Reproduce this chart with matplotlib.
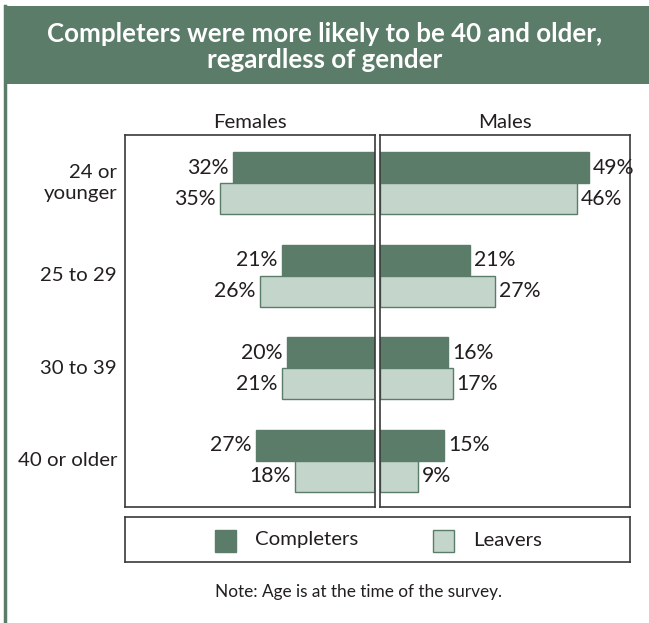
import matplotlib
matplotlib.use("Agg")
import matplotlib.pyplot as plt
from matplotlib.patches import Rectangle
import numpy as np

plt.rcParams['font.family'] = ['Lato', 'DejaVu Sans']

categories = ["24 or\nyounger", "25 to 29", "30 to 39", "40 or older"]
female_completers = [32, 21, 20, 27]
female_leavers = [35, 26, 21, 18]
male_completers = [49, 21, 16, 15]
male_leavers = [46, 27, 17, 9]
series_names = ["Completers", "Leavers"]
title = "Completers were more likely to be 40 and older,\nregardless of gender"
note = "Note: Age is at the time of the survey."

DARK = "#5a7c68"
LIGHT = "#c4d6cb"
TXT = "#231f20"

W, H = 649, 623
fig = plt.figure(figsize=(W / 100, H / 100), dpi=100)

def ax_at(x0, y0, x1, y1):
    return fig.add_axes([x0 / W, 1 - y1 / H, (x1 - x0) / W, (y1 - y0) / H])

# header band and frame
bg = fig.add_axes([0, 0, 1, 1])
bg.set_xlim(0, W); bg.set_ylim(H, 0); bg.axis("off")
bg.add_patch(Rectangle((4, 6), W, 78, facecolor=DARK, edgecolor="none"))
bg.plot([5, 5], [6, H], color=DARK, lw=2.5)
bg.text(325, 47, title, ha="center", va="center", color="white",
        fontsize=18.6, fontweight="bold", linespacing=1.1)

y = np.arange(len(categories))
h = 0.335
xmaxF = 56.5
xmaxM = 58.5
FS = 14.7
FSV = 15.3

axF = ax_at(125, 135, 375, 507)
axM = ax_at(380, 135, 630, 507)
for ax in (axF, axM):
    ax.set_ylim(3.5, -0.52)
    ax.set_xticks([]); ax.set_yticks([])
    for s in ax.spines.values():
        s.set_color("#3a3a3a"); s.set_linewidth(1.2)
axF.set_xlim(xmaxF, 0)
axM.set_xlim(0, xmaxM)

axF.barh(y - h / 2, female_completers, height=h, color=DARK, edgecolor=DARK, lw=1)
axF.barh(y + h / 2, female_leavers, height=h, color=LIGHT, edgecolor=DARK, lw=1)
axM.barh(y - h / 2, male_completers, height=h, color=DARK, edgecolor=DARK, lw=1)
axM.barh(y + h / 2, male_leavers, height=h, color=LIGHT, edgecolor=DARK, lw=1)

for i in range(len(categories)):
    axF.text(female_completers[i] + 1.0, y[i] - h / 2, f"{female_completers[i]}%", ha="right", va="center", fontsize=FSV, color=TXT)
    axF.text(female_leavers[i] + 1.0, y[i] + h / 2, f"{female_leavers[i]}%", ha="right", va="center", fontsize=FSV, color=TXT)
    axM.text(male_completers[i] + 0.9, y[i] - h / 2, f"{male_completers[i]}%", ha="left", va="center", fontsize=FSV, color=TXT)
    axM.text(male_leavers[i] + 0.9, y[i] + h / 2, f"{male_leavers[i]}%", ha="left", va="center", fontsize=FSV, color=TXT)
    axF.text(xmaxF + 1.8, y[i], categories[i], ha="right", va="center", fontsize=FS, color=TXT, linespacing=1.25)

axF.set_title("Females", fontsize=FS, color=TXT, pad=5)
axM.set_title("Males", fontsize=FS, color=TXT, pad=5)

# legend box
lg = ax_at(125, 517, 630, 562)
lg.set_xlim(125, 630); lg.set_ylim(562, 517)
lg.set_xticks([]); lg.set_yticks([])
for s in lg.spines.values():
    s.set_color("#3a3a3a"); s.set_linewidth(1.2)
lg.add_patch(Rectangle((215, 530), 21, 22, facecolor=DARK, edgecolor=DARK))
lg.text(255, 540, series_names[0], ha="left", va="center", fontsize=FS, color=TXT)
lg.add_patch(Rectangle((433, 530), 21, 22, facecolor=LIGHT, edgecolor=DARK))
lg.text(473, 540, series_names[1], ha="left", va="center", fontsize=FS, color=TXT)

bg.text(359, 592, note, ha="center", va="center", fontsize=12.4, color=TXT)

fig.savefig("out.png", dpi=100)
